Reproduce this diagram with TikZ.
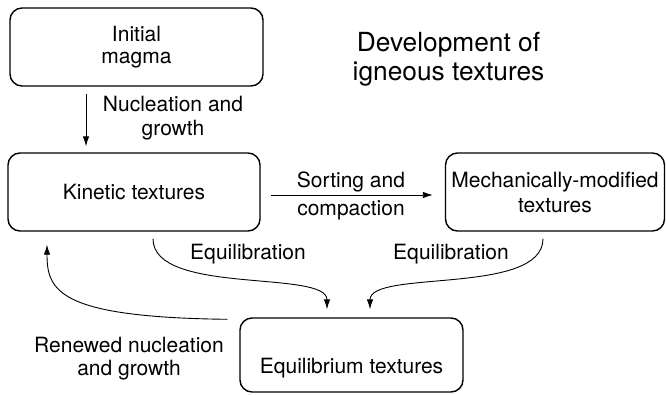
\documentclass[tikz,border=0pt]{standalone}
\usepackage{fontspec}
\setmainfont{TeX Gyre Heros}
\usetikzlibrary{arrows.meta}
\begin{document}
\begin{tikzpicture}[x=1pt,y=-1pt,
  box/.style={draw, line width=1.4pt, rounded corners=12pt, align=center, font=\fontsize{21}{24}\selectfont, inner sep=0pt},
  lbl/.style={align=center, font=\fontsize{21}{24}\selectfont, inner sep=0pt},
  arr/.style={-{Latex[length=10pt,width=6.5pt]}, line width=0.9pt}]
\useasboundingbox (0,0) rectangle (666,394);
\node[box, minimum width=253pt, minimum height=78pt, font=\fontsize{21}{22.5}\selectfont] (init) at (136.5,47) {Initial\\magma};
\node[box, minimum width=252pt, minimum height=78pt] (kin) at (134,192) {Kinetic textures};
\node[box, minimum width=219pt, minimum height=78pt, font=\fontsize{21}{25}\selectfont] (mech) at (555,192) {Mechanically-modified\\textures};
\node[box, minimum width=223pt, minimum height=74pt, text height=42pt, text depth=5pt] (eq) at (351.5,355) {Equilibrium textures};
\node[lbl, font=\fontsize{26.3}{29}\selectfont] (title) at (448.5,59) {Development of\\igneous textures};
\node[lbl] (nuc) at (173,118) {Nucleation and\\growth};
\node[lbl, font=\fontsize{21}{28}\selectfont] (sort) at (351,196) {Sorting and\\compaction};
\node[lbl] (eql) at (248,254) {Equilibration};
\node[lbl] (eqr) at (451,254) {Equilibration};
\node[lbl, font=\fontsize{21}{23}\selectfont] (ren) at (129,359) {Renewed nucleation\\and growth};
\draw[arr] ([xshift=-50.5pt,yshift=-7pt]init.south) -- ([xshift=-48pt,yshift=6pt]kin.north);
\draw[arr] ([xshift=10pt,yshift=-3pt]kin.east) -- ([xshift=-12pt,yshift=-3pt]mech.west);
\draw[arr] ([xshift=19pt,yshift=-7pt]kin.south) .. controls +(0,57) and +(0,-40) .. ([xshift=-24.5pt,yshift=8pt]eq.north);
\draw[arr] ([xshift=-12pt,yshift=-7pt]mech.south) .. controls +(0,57) and +(0,-40) .. ([xshift=18.5pt,yshift=8pt]eq.north);
\draw[arr] ([xshift=-12pt,yshift=-2pt]eq.north west) .. controls +(-169,-2) and +(0,46) .. ([xshift=-87pt,yshift=-13pt]kin.south);
\end{tikzpicture}
\end{document}
